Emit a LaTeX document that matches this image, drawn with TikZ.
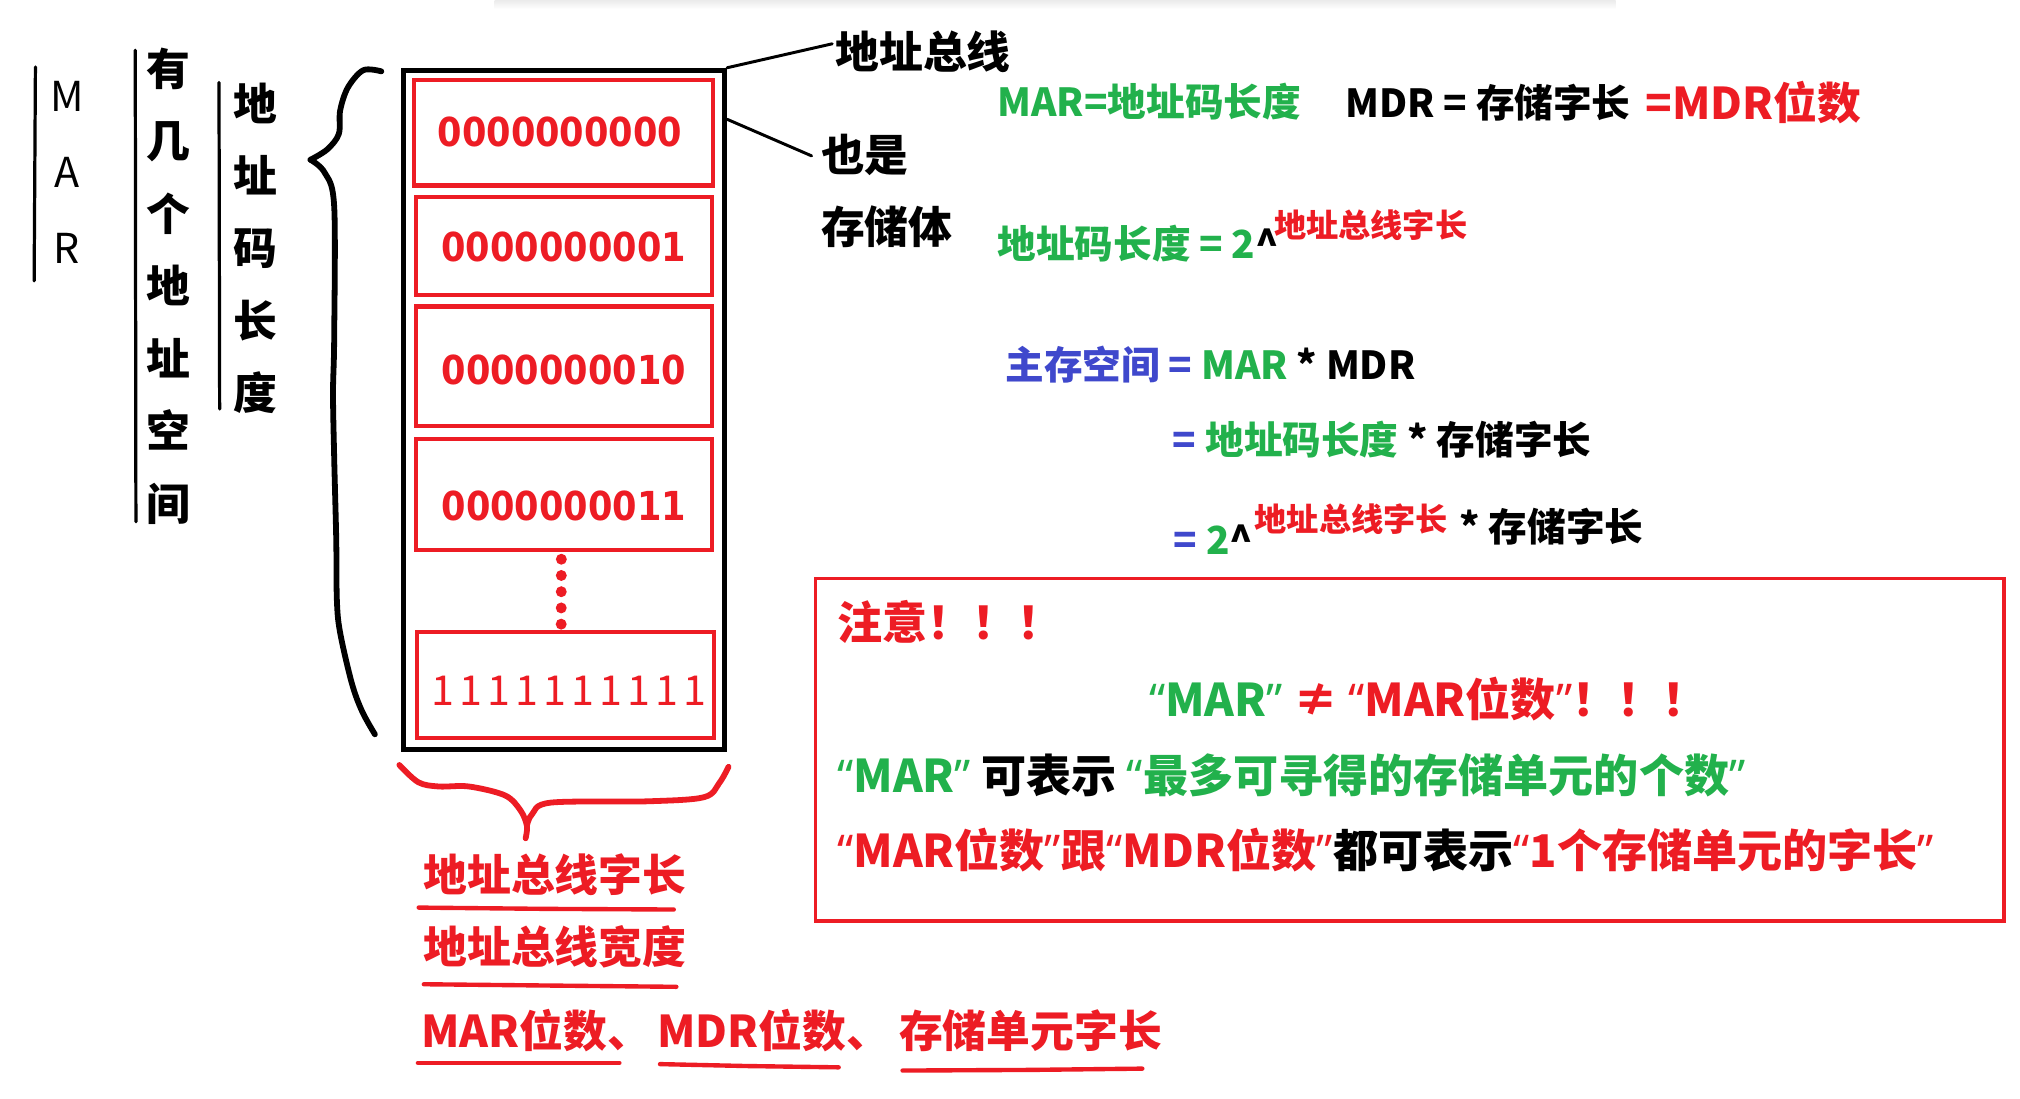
\documentclass[tikz,border=0pt]{standalone}
\usepackage{fontspec}
\setmainfont{Noto Sans CJK SC}
\newfontfamily\numfont{DejaVu Sans}[FakeStretch=0.88]
\newfontfamily\qfont{Noto Sans}
\definecolor{mred}{RGB}{237,28,36}
\definecolor{mgreen}{RGB}{34,177,76}
\definecolor{mblue}{RGB}{63,72,204}
\newcommand\fs[1]{\fontsize{#1}{#1}\selectfont}
\newcommand\oq{{\qfont\bfseries “}}
\newcommand\cq{{\qfont\bfseries ”}}
\newcommand\onek{\kern4pt}
\begin{document}
\begin{tikzpicture}[x=1pt,y=-1pt,
  txt/.style={inner sep=0pt,outer sep=0pt,anchor=west},
  t30/.style={txt,font=\bfseries\fs{30}},
  t34/.style={txt,font=\bfseries\fs{34}},
  t35/.style={txt,font=\bfseries\fs{35}},
  t25/.style={txt,font=\bfseries\fs{25},text=mred},
  bar/.style={line width=2.5pt,line cap=round},
  conn/.style={line width=2.3pt,line cap=round},
  cell/.style={draw=mred,line width=3.2pt,inner sep=0pt},
  num/.style={inner sep=0pt,font=\numfont\bfseries\fs{31},text=mred},
  uline/.style={mred,line width=3.4pt,line cap=round},
  brace/.style={line width=4.5pt,line cap=round,line join=round}]
\fill[white] (0,0) rectangle (1568,853);
\useasboundingbox (0,0) rectangle (1568,853);
\shade[top color=black!8,bottom color=white] (384,0) rectangle (1254,7);

% left labels
\draw[bar] (27.5,52) -- (26.5,218);
\node (mar) [inner sep=0pt,align=center,font=\fontsize{32}{59}\selectfont] at (52,134) {M\\A\\R};
\draw[bar] (105,39) -- (105.5,405);
\node (col1) [inner sep=0pt,align=center,font=\bfseries\fontsize{34}{56.3}\selectfont] at (131,222) {有\\几\\个\\地\\址\\空\\间};
\draw[bar] (170,64) -- (170.5,317.5);
\node (col2) [inner sep=0pt,align=center,font=\bfseries\fontsize{34}{56.2}\selectfont] at (198,192.7) {地\\址\\码\\长\\度};

% black brace
\draw[brace] plot[smooth,tension=0.55] coordinates {(296,55.4) (282,54.5) (270,68) (264,86) (263,104) (254,116) (241,124)};
\draw[brace] plot[smooth,tension=0.55] coordinates {(241,124) (252,134) (259.4,160) (259.4,263) (258.5,305) (259.4,355) (261,419) (261.5,466) (264,491) (273,530) (281,552) (291,570)};

% memory
\node (mem) [draw,line width=4pt,minimum width=249.4pt,minimum height=527.4pt,inner sep=0pt] at (437.7,318.3) {};
\node (c1) [cell,minimum width=231.8pt,minimum height=81.6pt] at (437.4,103.2) {};
\node (c2) [cell,minimum width=229.5pt,minimum height=75.7pt] at (437.75,190.85) {};
\node (c3) [cell,minimum width=229.5pt,minimum height=92.5pt] at (437.75,284.15) {};
\node (c4) [cell,minimum width=229.5pt,minimum height=86pt] at (437.75,384) {};
\node (c5) [cell,minimum width=230.4pt,minimum height=82.2pt] at (439.2,531.7) {};
\node (t1) [num] at (434.6,102.8) {0000000000};
\node (t2) [num] at (437.6,192) {0000000001};
\node (t3) [num] at (437.7,287) {0000000010};
\node (t4) [num] at (437.7,393) {0000000011};
\node (t5) [inner sep=0pt,font=\fs{32},text=mred] at (441.5,536.3) {1\onek 1\onek 1\onek 1\onek 1\onek 1\onek 1\onek 1\onek 1\onek 1};
\draw[mred,line width=8.5pt,line cap=round,dash pattern=on 0pt off 12.6pt,shorten <=5.5pt,shorten >=4pt] ([xshift=-2pt]c4.south) -- ([xshift=-3.6pt]c5.north);

% labels right of memory
\node (bus) [t34] at (648.5,40) {地址总线};
\node (also) [t34] at (637.4,120) {也是};
\node (body) [t34] at (637.4,176) {存储体};
\coordinate (busend) at (646,34);
\coordinate (alsoend) at (630,121);
\draw[conn] (mem.north east) -- (busend);
\draw[conn] ([yshift=-40pt]mem.north east) -- (alsoend);

% formulas
\node (f1) [t30,text=mgreen] at (774.3,79) {MAR=地址码长度};
\node (f1b) [t30] at (1044.3,80) {MDR = 存储字长};
\node (f1c) [t34,text=mred] at (1277.5,80) {=MDR位数};
\node (f2) [t30] at (774.3,189) {{\color{mgreen}地址码长度 = 2}\textasciicircum};
\node (f2s) [t25] at (989,175) {地址总线字长};
\node (f3) [t30] at (780.4,283) {{\color{mblue}主存空间 =} {\color{mgreen}MAR} * MDR};
\node (f4) [t30] at (910.5,341) {{\color{mblue}=} {\color{mgreen}地址码长度} * 存储字长};
\node (f5) [t30] at (911,419) {{\color{mblue}=} {\color{mgreen}2}\textasciicircum};
\node (f5s) [t25] at (974,403) {地址总线字长};
\node (f5b) [t30] at (1133,409) {* 存储字长};

% note box
\node (note) [draw=mred,line width=3pt,minimum width=922.8pt,minimum height=266pt,inner sep=0pt] at (1094.4,582) {};
\node (n1) [t35,text=mred] at (650,483) {注意！！！};
\node (n2) [t35] at (892,542.5) {{\color{mgreen}\oq MAR\cq} {\color{mred}≠ \oq MAR位数\cq！！！}};
\node (n3) [t35] at (650,602) {{\color{mgreen}\oq MAR\cq} 可表示 {\color{mgreen}\oq 最多可寻得的存储单元的个数\cq}};
\node (n4) [t35] at (650,660) {{\color{mred}\oq MAR位数\cq 跟\oq MDR位数\cq}都可表示{\color{mred}\oq 1个存储单元的字长\cq}};

% red brace below memory
\draw[brace,mred] plot[smooth,tension=0.55] coordinates {(310,593.8) (324.7,607.2) (340.6,610.5) (364,610.5) (392,617.4) (404,629) (409,641) (408,650.7)};
\draw[brace,mred] plot[smooth,tension=0.55] coordinates {(409,641) (413,632) (427.7,623) (503,622) (546.5,618.8) (558.4,607.7) (565.5,595.2)};

% bottom labels
\node (b1) [t34,text=mred] at (328.7,679) {地址总线字长};
\draw[uline] (325,704.5) -- (424,705.5) -- (523,706);
\node (b2) [t34,text=mred] at (328.7,735) {地址总线宽度};
\draw[uline] (329,764) -- (425,765) -- (525,766);
\node (b3) [t34,text=mred] at (327,800) {MAR位数、\kern5pt MDR位数、\kern7pt 存储单元字长};
\draw[uline] (324.4,825) -- (480.8,825);
\draw[uline] (512.3,826) -- (580,827.5) -- (651,828.5);
\draw[uline] (700.6,831) -- (800,830.5) -- (886.7,829.5);
\end{tikzpicture}
\end{document}
